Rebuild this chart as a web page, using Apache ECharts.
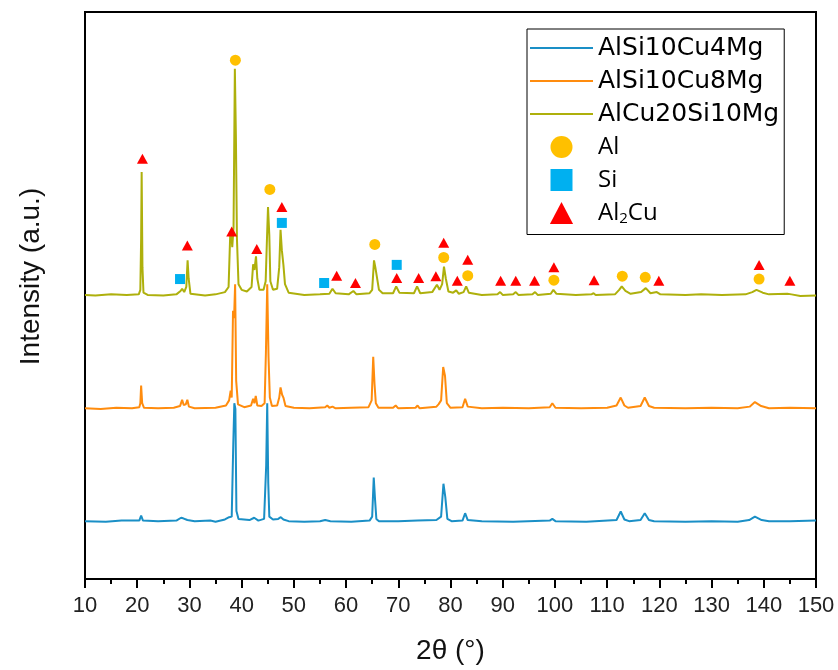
<!DOCTYPE html>
<html>
<head>
<meta charset="utf-8">
<script src="https://cdn.jsdelivr.net/npm/echarts@6/dist/echarts.min.js"></script>
<style>html,body{margin:0;padding:0;background:#fff}#c{width:838px;height:670px}</style>
</head>
<body>
<div id="c"></div>
<script>
// 2θ (degrees) vs intensity (a.u., offset stacked patterns)
var xTicks = [10,20,30,40,50,60,70,80,90,100,110,120,130,140,150];
var seriesNames = ['AlSi10Cu4Mg','AlSi10Cu8Mg','AlCu20Si10Mg'];
var phaseNames = ['Al','Si','Al2Cu'];

var cu4 = [[10,10.2],[14,10.1],[17,10.3],[20.4,10.3],[20.75,11.2],[21.1,10.3],[24,10.2],[27.5,10.3],[28.4,10.8],[28.8,10.7],[29.6,10.4],[31,10.2],[34,10.3],[35,10.1],[36.8,10.5],[37.6,10.9],[38.1,11.0],[38.4,23.9],[38.6,31.0],[38.8,30.0],[39.0,12.0],[39.4,10.6],[41.5,10.4],[42.4,10.8],[42.7,10.7],[43.2,10.3],[44.3,10.6],[44.7,20.0],[44.9,31.0],[45.1,16.9],[45.3,11.0],[46,10.5],[47.0,10.6],[47.5,10.9],[48.0,10.5],[49,10.2],[52,10.1],[55,10.2],[56,10.4],[57,10.2],[61,10.1],[64.5,10.3],[65.0,11.0],[65.3,17.9],[65.55,14.0],[65.8,10.6],[66.3,10.2],[70,10.2],[73.7,10.3],[77.3,10.4],[78.2,11.0],[78.65,16.8],[79.0,14.5],[79.4,10.6],[80.2,10.2],[82.3,10.3],[82.8,11.6],[83.3,10.4],[86,10.2],[92,10.1],[99,10.3],[99.5,10.6],[100.1,10.2],[106,10.1],[111.8,10.4],[112.6,11.9],[113.3,10.5],[114.2,10.2],[116.4,10.4],[117.2,11.6],[118.0,10.4],[119,10.2],[125,10.1],[130,10.2],[135,10.1],[137.2,10.4],[138.3,11.0],[139.6,10.4],[141,10.2],[145,10.2],[150,10.3]];

var cu8 = [[10,30.1],[13,30.0],[16,30.2],[19,30.1],[20.4,30.3],[20.6,31.0],[20.75,34.1],[20.95,31.0],[21.3,30.2],[24,30.1],[27,30.2],[28.2,30.5],[28.6,31.6],[28.9,30.7],[29.3,30.8],[29.6,31.6],[29.9,30.4],[31,30.1],[35,30.2],[37,30.6],[37.6,31.5],[37.9,33.2],[38.1,32.0],[38.35,47.3],[38.55,46.0],[38.75,52.0],[38.95,35.0],[39.3,30.8],[40.5,30.3],[41.8,30.6],[42.2,31.8],[42.45,31.0],[42.7,32.3],[43.0,30.6],[43.8,30.5],[44.4,31.0],[44.65,40.0],[44.9,52.0],[45.15,39.1],[45.4,32.0],[45.8,30.5],[46.8,30.6],[47.2,32.0],[47.45,33.8],[47.75,32.5],[48.0,32.0],[48.4,30.5],[50,30.2],[53,30.1],[56,30.3],[56.4,30.6],[56.8,30.2],[57.4,30.4],[58,30.1],[61,30.2],[64.3,30.3],[64.9,31.5],[65.2,39.2],[65.45,34.4],[65.7,31.0],[66.2,30.2],[69,30.2],[69.5,30.6],[70,30.1],[73.3,30.2],[73.7,30.6],[74.1,30.1],[77.3,30.4],[77.7,30.8],[78.2,31.5],[78.6,37.4],[78.95,35.8],[79.3,31.0],[80,30.2],[82.3,30.3],[82.8,31.8],[83.3,30.4],[86,30.1],[90,30.2],[95,30.1],[99,30.3],[99.5,31.0],[100.1,30.2],[105,30.1],[110,30.2],[111.8,30.6],[112.6,32.0],[113.3,30.6],[114,30.2],[116.4,30.5],[117.2,32.0],[118.0,30.5],[119,30.2],[125,30.1],[130,30.2],[135,30.1],[137.3,30.4],[138.3,31.2],[139.5,30.5],[141,30.1],[145,30.2],[150,30.1]];

var cu20 = [[10,50.1],[12,50.0],[15,50.2],[18,50.1],[20.3,50.2],[20.6,51.0],[20.75,60.0],[20.85,71.8],[21.0,55.0],[21.2,50.5],[22,50.1],[25,50.0],[27.5,50.2],[28.3,50.8],[28.6,51.2],[29.0,50.6],[29.4,51.5],[29.65,56.2],[29.85,53.0],[30.2,50.3],[33,50.0],[35,50.2],[36.8,50.6],[37.5,51.5],[37.8,60.4],[38.0,61.3],[38.2,58.5],[38.45,62.0],[38.7,90.0],[38.9,78.0],[39.1,60.0],[39.4,52.0],[40,51.0],[41,50.7],[41.9,51.5],[42.2,55.5],[42.45,54.5],[42.75,56.9],[43.0,53.0],[43.4,51.0],[44.2,51.0],[44.6,52.5],[44.85,60.0],[45.05,65.6],[45.3,60.6],[45.5,52.5],[46,51.0],[46.8,51.2],[47.2,55.0],[47.45,61.6],[47.7,58.0],[48.0,55.4],[48.3,52.0],[49,50.5],[52,50.1],[55,50.2],[56.8,50.3],[57.4,51.2],[58,50.4],[60.5,50.2],[61.4,50.8],[62,50.2],[64.5,50.4],[65.0,51.0],[65.35,56.2],[65.6,55.0],[65.9,54.8],[66.3,51.0],[67,50.4],[69,50.4],[69.6,51.6],[70.2,50.5],[73,50.4],[73.6,51.6],[74.2,50.4],[76.5,50.6],[77.4,51.9],[77.9,51.0],[78.4,52.0],[78.75,55.1],[79.1,53.0],[79.6,50.7],[80.5,50.5],[81.1,50.9],[81.6,50.3],[82.5,50.6],[83.0,51.6],[83.5,50.5],[86,50.1],[89,50.2],[89.5,50.6],[90,50.1],[92,50.2],[92.5,50.6],[93,50.1],[95.7,50.2],[96.2,50.6],[96.7,50.1],[99.2,50.3],[99.7,51.0],[100.3,50.3],[104,50.1],[107,50.2],[107.4,50.4],[107.8,50.1],[111.5,50.2],[112.3,51.0],[112.8,51.6],[113.5,50.8],[114.5,50.3],[116.5,50.6],[117.4,51.3],[118.3,50.4],[119.5,50.6],[120.2,50.2],[125,50.1],[128,50.2],[132,50.1],[136.5,50.2],[137.8,50.6],[138.6,51.0],[139.8,50.5],[141,50.2],[144.5,50.3],[145.3,50.2],[147,49.9],[150,50.0]];

var alPeaks = [[38.8,91.5],[45.4,68.7],[65.5,59.0],[78.7,56.7],[83.3,53.5],[99.8,52.7],[112.9,53.4],[117.3,53.2],[139.1,52.9]];
var siPeaks = [[28.2,52.9],[47.7,62.8],[55.8,52.2],[69.7,55.4]];
var al2cuPeaks = [[21.0,74.1],[29.6,58.8],[38.1,61.3],[42.9,58.2],[47.7,65.6],[58.2,53.5],[61.8,52.2],[69.7,53.1],[73.9,53.1],[77.2,53.4],[78.7,59.3],[81.3,52.6],[83.3,56.3],[89.6,52.6],[92.5,52.6],[96.1,52.6],[99.8,55.0],[107.5,52.7],[119.9,52.6],[139.1,55.4],[145.0,52.6]];

var chart = echarts.init(document.getElementById('c'));
var lineColors = ['#1a8fc6','#ff8c0e','#aeb00c'];
var lineData = [cu4, cu8, cu20];
var series = [];
for (var i = 0; i < 3; i++) {
  series.push({
    name: seriesNames[i], type: 'line', data: lineData[i], symbol: 'none',
    lineStyle: {color: lineColors[i], width: 2}, itemStyle: {color: lineColors[i]},
    animation: false, silent: true
  });
}
series.push({name: phaseNames[0], type: 'scatter', data: alPeaks, symbol: 'circle', symbolSize: 11, itemStyle: {color: '#ffc000', opacity: 1}, animation: false, z: 5});
series.push({name: phaseNames[1], type: 'scatter', data: siPeaks, symbol: 'rect', symbolSize: 10, itemStyle: {color: '#00b0f0', opacity: 1}, animation: false, z: 5});
series.push({name: phaseNames[2], type: 'scatter', data: al2cuPeaks, symbol: 'triangle', symbolSize: [11, 10], itemStyle: {color: '#ff0000', opacity: 1}, animation: false, z: 5});

var lineIcon = 'path://M0,0h63v2h-63z';
var sqIcon = 'path://M0,0h10v10h-10z';
var triIcon = 'path://M5,0L10,9.5L0,9.5z';
var baseFont = 'Liberation Sans';
chart.setOption({
  backgroundColor: '#fff',
  animation: false,
  grid: {left: 85, right: 22, top: 12, bottom: 87, show: true, borderColor: '#000', borderWidth: 2, backgroundColor: 'transparent'},
  legend: {
    orient: 'vertical', left: 527, top: 29,
    itemWidth: 63, itemHeight: 22, itemGap: 7,
    padding: [6, 5, 8, 3],
    borderColor: '#000', borderWidth: 1, backgroundColor: '#fff',
    selectedMode: false, symbolKeepAspect: true,
    formatter: function (n) { return n === 'Al2Cu' ? 'Al{s|2}Cu' : n; },
    textStyle: {fontFamily: 'DejaVu Sans', fontSize: 25, color: '#000', lineHeight: 26,
      rich: {s: {fontFamily: 'Open Sans', fontSize: 15, color: '#000', padding: [12, 0, 0, 0]}}},
    data: [
      {name: seriesNames[0], icon: lineIcon}, {name: seriesNames[1], icon: lineIcon}, {name: seriesNames[2], icon: lineIcon},
      {name: phaseNames[0], icon: 'circle', textStyle: {fontFamily: 'Open Sans', fontSize: 24}},
      {name: phaseNames[1], icon: sqIcon, textStyle: {fontFamily: 'Open Sans', fontSize: 24}},
      {name: phaseNames[2], icon: triIcon, textStyle: {fontFamily: 'Open Sans', fontSize: 24}}
    ]
  },
  xAxis: {
    type: 'value', min: xTicks[0], max: xTicks[xTicks.length - 1], interval: 10,
    name: '2θ (°)', nameLocation: 'middle', nameGap: 58,
    nameTextStyle: {fontFamily: baseFont, fontSize: 28, color: '#111'},
    axisLine: {show: true, lineStyle: {color: '#000', width: 2}},
    axisTick: {show: true, length: 9, lineStyle: {color: '#000', width: 2}},
    minorTick: {show: true, splitNumber: 2, length: 5, lineStyle: {color: '#000', width: 2}},
    axisLabel: {fontFamily: baseFont, fontSize: 22, color: '#222', margin: 16},
    splitLine: {show: false}
  },
  yAxis: {
    type: 'value', min: 0, max: 100,
    name: 'Intensity (a.u.)', nameLocation: 'middle', nameGap: 40, nameRotate: 90,
    nameTextStyle: {fontFamily: baseFont, fontSize: 28, color: '#111', padding: [0, 0, 0, 38]},
    axisLine: {show: true, lineStyle: {color: '#000', width: 2}},
    axisTick: {show: false}, axisLabel: {show: false}, splitLine: {show: false}
  },
  series: series
});
</script>
</body>
</html>
